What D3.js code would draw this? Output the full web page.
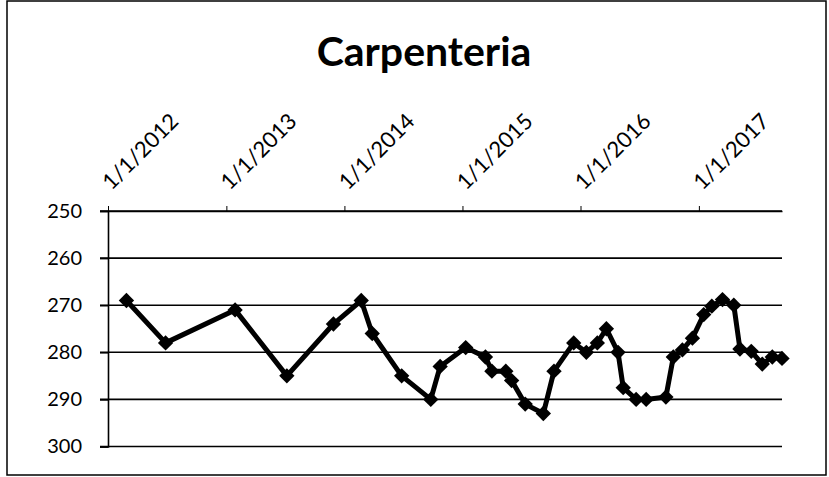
<!DOCTYPE html>
<html>
<head>
<meta charset="utf-8">
<script src="https://cdn.jsdelivr.net/npm/d3@7"></script>
<style>
  body { margin: 0; background: #fff; }
  svg { display: block; }
  text { font-family: Lato, "Open Sans", sans-serif; fill: #000; }
</style>
</head>
<body>
<svg id="plot"></svg>
<script>
var chartTitle = "Carpenteria";

var dates = ["2012-02-27", "2012-06-27", "2013-01-28", "2013-07-07", "2013-11-28",
  "2014-02-22", "2014-03-28", "2014-06-27", "2014-09-25", "2014-10-24",
  "2015-01-11", "2015-03-13", "2015-04-02", "2015-05-15", "2015-06-02",
  "2015-07-14", "2015-09-08", "2015-10-11", "2015-12-11", "2016-01-19",
  "2016-02-22", "2016-03-21", "2016-04-26", "2016-05-12", "2016-06-21",
  "2016-07-22", "2016-09-21", "2016-10-14", "2016-11-11", "2016-12-12",
  "2017-01-16", "2017-02-10", "2017-03-15", "2017-04-19", "2017-05-08",
  "2017-06-12", "2017-07-16", "2017-08-16", "2017-09-15"];

var depths = [269, 278, 271, 285, 274,
  269, 276, 285, 290, 283,
  279, 281, 284, 284, 286,
  291, 293, 284, 278, 280,
  278, 275, 280, 287.5, 290,
  290, 289.5, 281, 279.5, 277,
  272, 270.2, 268.8, 270, 279.3,
  279.8, 282.5, 281, 281.3];

var xTickLabels = ["1/1/2012", "1/1/2013", "1/1/2014", "1/1/2015", "1/1/2016", "1/1/2017"];
var yTicks = [250, 260, 270, 280, 290, 300];

var width = 829, height = 477;
var margin = {top: 211, right: 45, bottom: 30, left: 108};

var dateParse = d3.timeParse("%Y-%m-%d");
var tickParse = d3.timeParse("%m/%d/%Y");
var data = dates.map((d, i) => ({x: dateParse(d), y: depths[i]}));

var svg = d3.select("#plot")
    .attr("width", width)
    .attr("height", height);

// outer frame
svg.append("rect")
    .attr("x", 7).attr("y", 1)
    .attr("width", 819).attr("height", 474)
    .attr("fill", "none")
    .attr("stroke", "#000")
    .attr("stroke-width", 1.5);

var xScale = d3.scaleTime()
    .domain([dateParse("2012-01-01"), d3.max(data, d => d.x)])
    .range([margin.left, width - margin.right - 2]);

var yScale = d3.scaleLinear()
    .domain([250, 300])
    .range([margin.top, height - margin.bottom - 0.5]);

svg.append("text")
    .attr("x", 424)
    .attr("y", 66)
    .attr("text-anchor", "middle")
    .attr("font-size", 41)
    .attr("font-weight", "bold")
    .text(chartTitle);

// gridlines
svg.append("g")
    .selectAll("line")
    .data(yTicks)
    .join("line")
    .attr("x1", xScale.range()[0] - 8)
    .attr("x2", xScale.range()[1])
    .attr("y1", d => yScale(d))
    .attr("y2", d => yScale(d))
    .attr("stroke", "#000")
    .attr("stroke-width", 1.6);

// y axis
var yAxis = d3.axisLeft(yScale)
    .tickValues(yTicks)
    .tickSize(8)
    .tickPadding(18);

svg.append("g")
    .attr("transform", "translate(" + margin.left + ",0)")
    .call(yAxis)
    .call(g => g.select(".domain").attr("stroke-width", 1.6))
    .call(g => g.selectAll(".tick line").attr("stroke-width", 1.6))
    .call(g => g.selectAll(".tick text")
        .attr("font-family", "Lato, sans-serif")
        .attr("font-size", 20)
        .attr("fill", "#000"));

// x axis on top, rotated labels
var xAxis = d3.axisTop(xScale)
    .tickValues(xTickLabels.map(tickParse))
    .tickFormat((d, i) => xTickLabels[i])
    .tickSizeInner(5)
    .tickSizeOuter(0);

svg.append("g")
    .attr("transform", "translate(0," + margin.top + ")")
    .call(xAxis)
    .call(g => g.select(".domain").attr("stroke-width", 1.6))
    .call(g => g.selectAll(".tick text")
        .attr("font-family", "Lato, sans-serif")
        .attr("font-size", 22)
        .attr("fill", "#000")
        .attr("text-anchor", "start")
        .attr("x", 0).attr("y", 0).attr("dy", 0)
        .attr("transform", "translate(3,-20) rotate(-45)"));

var line = d3.line()
    .x(d => xScale(d.x))
    .y(d => yScale(d.y));

svg.append("path")
    .datum(data)
    .attr("fill", "none")
    .attr("stroke", "#000")
    .attr("stroke-width", 5)
    .attr("stroke-linejoin", "round")
    .attr("d", line);

svg.append("g")
    .selectAll("path")
    .data(data)
    .join("path")
    .attr("d", d3.symbol(d3.symbolDiamond2, 150))
    .attr("fill", "#000")
    .attr("transform", d => "translate(" + xScale(d.x) + "," + yScale(d.y) + ")");
</script>
</body>
</html>
